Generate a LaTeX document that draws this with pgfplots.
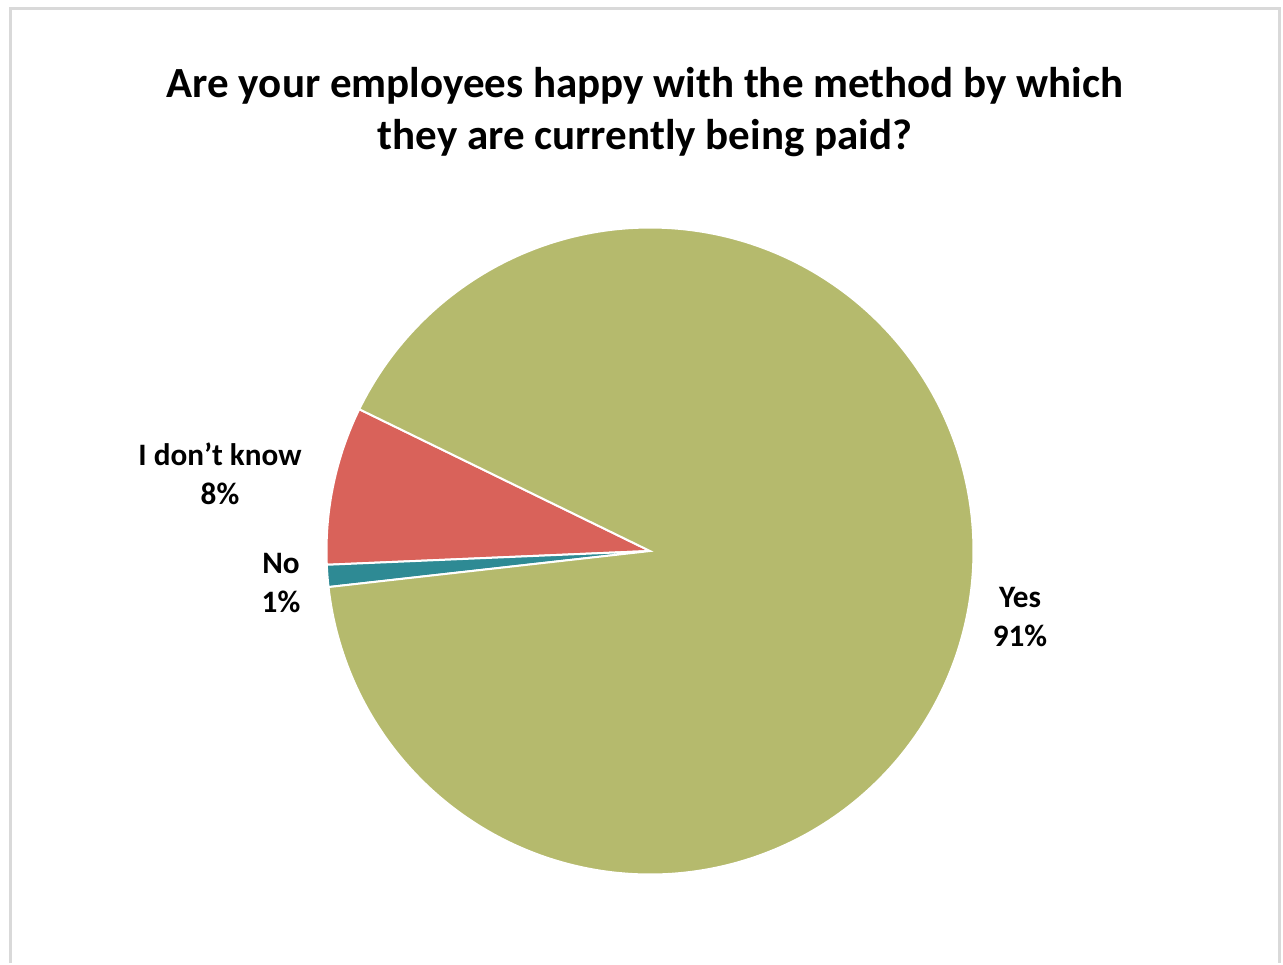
\documentclass[border=0pt]{standalone}
\usepackage{pgfplots}
\pgfplotsset{compat=1.18}
\usepackage{pgfplotstable}
\usepackage{fontspec}
\setmainfont{Carlito}
\definecolor{cyes}{HTML}{B5BA6D}
\definecolor{cno}{HTML}{2E8A94}
\definecolor{cidk}{HTML}{D9625A}
\definecolor{cframe}{HTML}{D9D9D9}
% share of answers, in percent
\pgfplotstableread{
label value
IDK 7.9
No 1.1
Yes 91.0
}\piedata
\begin{document}
\begin{tikzpicture}
\pgfplotstablegetelem{0}{value}\of\piedata \pgfmathsetmacro{\vI}{\pgfplotsretval}
\pgfplotstablegetelem{1}{value}\of\piedata \pgfmathsetmacro{\vN}{\pgfplotsretval}
\pgfplotstablegetelem{2}{value}\of\piedata \pgfmathsetmacro{\vY}{\pgfplotsretval}
\pgfmathsetmacro{\aA}{154}
\pgfmathsetmacro{\aB}{\aA+3.6*\vI}
\pgfmathsetmacro{\aC}{\aB+3.6*\vN}
\pgfmathsetmacro{\aD}{\aC+3.6*\vY}
\begin{axis}[
  scale only axis, width=641.5pt, height=481.5pt,
  xmin=0, xmax=1283, ymin=0, ymax=963, y dir=reverse,
  hide axis, clip=false,
]
\path (axis cs:0,0) (axis cs:1283,963);
\draw[cframe, line width=1.5pt] (axis cs:10,963) -- (axis cs:10,8) -- (axis cs:1279,8) -- (axis cs:1279,963);
\addplot[fill=cidk, draw=white, line width=1pt, domain=\aA:\aB, samples=40, variable=\t]
  ({650+323.5*cos(\t)}, {551-323.5*sin(\t)}) -- (axis cs:650,551) -- cycle;
\addplot[fill=cno, draw=white, line width=1pt, domain=\aB:\aC, samples=10, variable=\t]
  ({650+323.5*cos(\t)}, {551-323.5*sin(\t)}) -- (axis cs:650,551) -- cycle;
\addplot[fill=cyes, draw=white, line width=1pt, domain=\aC:\aD, samples=300, variable=\t]
  ({650+323.5*cos(\t)}, {551-323.5*sin(\t)}) -- (axis cs:650,551) -- cycle;
\node[font=\bfseries\fontsize{21.5}{26}\selectfont, align=center] at (axis cs:645,112) {Are your employees happy with the method by which\\they are currently being paid?};
\node[font=\bfseries\fontsize{15.6}{19.5}\selectfont, align=center] at (axis cs:220,474) {I don’t know\\8\%};
\node[font=\bfseries\fontsize{15.6}{19.5}\selectfont, align=center] at (axis cs:281,583) {No\\1\%};
\node[font=\bfseries\fontsize{15.6}{19.5}\selectfont, align=center] at (axis cs:1020,617) {Yes\\91\%};
\end{axis}
\end{tikzpicture}
\end{document}
